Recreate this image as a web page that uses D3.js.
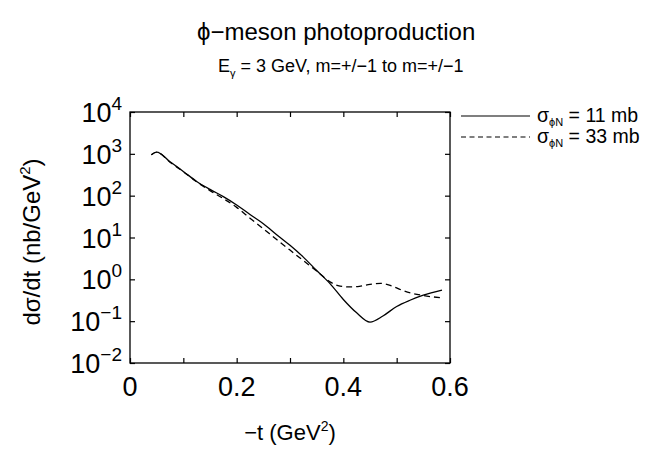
<!DOCTYPE html>
<html><head><meta charset="utf-8">
<script src="https://cdn.jsdelivr.net/npm/d3@7"></script>
<style>
html,body{margin:0;padding:0;background:#fff;}
text{font-family:"Liberation Sans",Arial,Helvetica,sans-serif;fill:#000;}
</style></head>
<body><svg id="c" width="655" height="451"></svg>
<script>
// -t values (GeV^2) and dσ/dt (nb/GeV^2)
const tSolid = [0.04,0.05,0.075,0.10,0.125,0.15,0.175,0.20,0.225,0.25,0.275,0.30,0.325,0.35,0.375,0.40,0.425,0.45,0.475,0.50,0.525,0.55,0.585];
const sigma11 = [955,1100,645,380,219,141,95,60,35.5,21.4,11.7,6.5,3.4,1.62,0.79,0.33,0.158,0.095,0.135,0.224,0.316,0.417,0.55];
const tDashed = [0.04,0.05,0.075,0.10,0.125,0.15,0.175,0.20,0.225,0.25,0.275,0.30,0.325,0.35,0.375,0.39,0.41,0.43,0.45,0.47,0.49,0.51,0.53,0.55,0.585];
const sigma33 = [955,1100,630,372,214,132,85,52.5,29,16.2,8.9,5.0,2.8,1.58,0.87,0.71,0.66,0.68,0.76,0.80,0.70,0.55,0.46,0.41,0.36];
const xTicks = [0,0.1,0.2,0.3,0.4,0.5,0.6];
const xTickLabels = ["0","","0.2","","0.4","","0.6"];
const yExponents = [-2,-1,0,1,2,3,4];
const legendLabels = [{sym:"σ",sub:"ϕN",rest:" = 11 mb",dash:null},{sym:"σ",sub:"ϕN",rest:" = 33 mb",dash:"5,3.5"}];

const svg = d3.select("#c");
const L=130, R=450, T=112, B=363;
const x = d3.scaleLinear().domain([0,0.6]).range([L,R]);
const y = d3.scaleLog().domain([1e-2,1e4]).range([B,T]);

// frame
svg.append("rect").attr("x",L).attr("y",T).attr("width",R-L).attr("height",B-T)
  .attr("fill","none").attr("stroke","#000").attr("stroke-width",1.3);

const tl = 5;
const styleAxis = g=>{g.select(".domain").remove(); g.selectAll("line").attr("stroke-width",1.2);};
svg.append("g").attr("transform",`translate(0,${B})`)
  .call(d3.axisBottom(x).tickValues(xTicks).tickSize(-tl).tickFormat("")).call(styleAxis);
svg.append("g").attr("transform",`translate(0,${T})`)
  .call(d3.axisTop(x).tickValues(xTicks).tickSize(-tl).tickFormat("")).call(styleAxis);
const yTickVals = yExponents.map(e=>Math.pow(10,e));
svg.append("g").attr("transform",`translate(${L},0)`)
  .call(d3.axisLeft(y).tickValues(yTickVals).tickSize(-tl).tickFormat("")).call(styleAxis);
svg.append("g").attr("transform",`translate(${R},0)`)
  .call(d3.axisRight(y).tickValues(yTickVals).tickSize(-tl).tickFormat("")).call(styleAxis);

// x tick labels
xTicks.forEach((v,i)=>{
  if(!xTickLabels[i]) return;
  svg.append("text").attr("x",x(v)).attr("y",396).attr("text-anchor","middle")
    .attr("font-size",27).text(xTickLabels[i]);
});
// y tick labels
yExponents.forEach(e=>{
  const t = svg.append("text").attr("x",122).attr("y",y(Math.pow(10,e))+10)
    .attr("text-anchor","end").attr("font-size",27);
  t.append("tspan").text("10");
  t.append("tspan").attr("dy",-12).attr("font-size",19).text(e<0?"\u2212"+(-e):String(e));
});

// lines
const line = d3.line().x(d=>x(d[0])).y(d=>y(d[1])).curve(d3.curveMonotoneX);
svg.append("path").datum(tSolid.map((t,i)=>[t,sigma11[i]]))
  .attr("d",line).attr("fill","none").attr("stroke","#000").attr("stroke-width",1.3);
svg.append("path").datum(tDashed.map((t,i)=>[t,sigma33[i]]))
  .attr("d",line).attr("fill","none").attr("stroke","#000").attr("stroke-width",1.3)
  .attr("stroke-dasharray","6,4");

// legend
legendLabels.forEach((d,i)=>{
  const ly = 116 + i*21;
  svg.append("line").attr("x1",461).attr("x2",530).attr("y1",ly).attr("y2",ly)
    .attr("stroke","#000").attr("stroke-width",1.2).attr("stroke-dasharray",d.dash);
  const t = svg.append("text").attr("x",537).attr("y",ly+6).attr("font-size",19.5);
  t.append("tspan").text(d.sym);
  t.append("tspan").attr("dy",4).attr("font-size",11).text(d.sub);
  t.append("tspan").attr("dy",-4).text(d.rest);
});

// titles
svg.append("text").attr("x",197).attr("y",40).attr("font-size",24).text("\u03D5\u2212meson photoproduction");
const st = svg.append("text").attr("x",218).attr("y",72).attr("font-size",18);
st.append("tspan").text("E");
st.append("tspan").attr("dy",5).attr("font-size",11).text("γ");
st.append("tspan").attr("dy",-5).text(" = 3 GeV, m=+/\u22121 to m=+/\u22121");

// axis titles
const xt = svg.append("text").attr("x",290).attr("y",440).attr("text-anchor","middle").attr("font-size",22);
xt.append("tspan").text("\u2212t (GeV");
xt.append("tspan").attr("dy",-9).attr("font-size",14).text("2");
xt.append("tspan").attr("dy",9).text(")");
const yt = svg.append("text").attr("transform","translate(40,242) rotate(-90)").attr("text-anchor","middle").attr("font-size",24);
yt.append("tspan").text("dσ/dt (nb/GeV");
yt.append("tspan").attr("dy",-10).attr("font-size",15).text("2");
yt.append("tspan").attr("dy",10).text(")");
</script></body></html>
